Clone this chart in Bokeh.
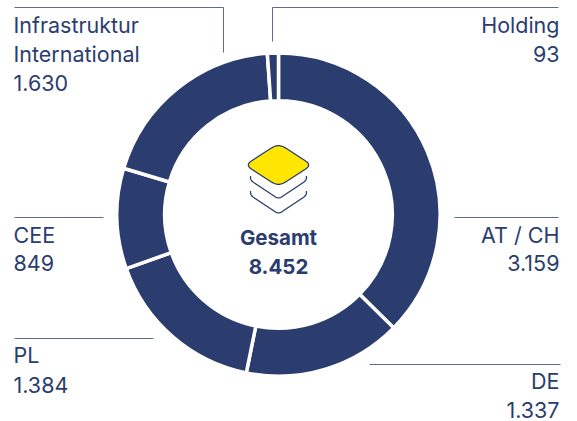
import numpy as np
from bokeh.plotting import figure
from bokeh.embed import file_html
from bokeh.resources import INLINE
from bokeh.core.properties import value
from bokeh.models import ColumnDataSource

categories = ["AT / CH", "DE", "PL", "CEE", "Infrastruktur International", "Holding"]
values = [3159, 1337, 1384, 849, 1630, 93]
value_labels = ["3.159", "1.337", "1.384", "849", "1.630", "93"]
total_label = "8.452"

NAVY = "#2a3d6e"
LINE = "#5a6b94"
FONT = "Inter"
W, H = 577, 421
def Y(py):
    return H - np.asarray(py, dtype=float)

p = figure(width=W, height=H, x_range=(0, W), y_range=(0, H),
           output_backend="svg", toolbar_location=None, min_border=0,
           outline_line_color=None, background_fill_color="white", border_fill_color="white")
p.axis.visible = False
p.grid.visible = False

v = np.array(values, dtype=float)
ends = np.cumsum(v) / v.sum() * 2 * np.pi
starts = np.r_[0, ends[:-1]]
src = ColumnDataSource(dict(start=np.pi/2 - ends, end=np.pi/2 - starts, cat=categories))
p.annular_wedge(x=278, y=float(Y(214)), inner_radius=113.8, outer_radius=161.6,
                start_angle="start", end_angle="end", source=src,
                fill_color=NAVY, line_color="white", line_width=3.5)

# leader lines
leaders = [([14, 223, 223], [7, 7, 52]),
           ([272, 272, 558], [41, 7, 7]),
           ([454, 558], [217, 217]),
           ([14, 103], [217, 217]),
           ([14, 153], [338, 338]),
           ([369, 560], [364, 364])]
for xs, ys in leaders:
    p.line(xs, Y(ys), line_color=LINE, line_width=1)

def txt(x, y, s, align="left", weight="normal", color=NAVY, size="21.5px"):
    p.text([x], [float(Y(y))], text=[s], text_font=value(FONT), text_font_size=size,
           text_color=color, text_align=align, text_baseline="alphabetic", text_font_style=weight)

txt(13, 24, "Infrastruktur"); txt(13, 53, "International"); txt(13, 82, value_labels[4])
txt(559, 24, categories[5], "right"); txt(559, 53, value_labels[5], "right")
txt(559, 234, categories[0], "right"); txt(559, 262, value_labels[0], "right")
txt(13, 234, categories[3]); txt(13, 262, value_labels[3])
txt(13, 354, categories[2]); txt(13, 384, value_labels[2])
txt(559, 380, categories[1], "right"); txt(559, 409, value_labels[1], "right")
txt(278, 237, "Gesamt", "center", "bold", size="20.5px")
txt(278, 266, total_label, "center", "bold", size="20.5px")

# icon
def rounded(pts, r, closed=True):
    pts = [np.array(q, float) for q in pts]
    out = []
    n = len(pts)
    idx = range(n) if closed else range(1, n-1)
    if not closed:
        out.append(pts[0])
    for i in idx:
        a, b, c = pts[i-1], pts[i], pts[(i+1) % n]
        u = (a-b)/np.linalg.norm(a-b); w = (c-b)/np.linalg.norm(c-b)
        s, e = b+u*r, b+w*r
        for t in np.linspace(0, 1, 8):
            out.append((1-t)**2*s + 2*t*(1-t)*b + t*t*e)
    if not closed:
        out.append(pts[-1])
    return np.array(out)

d = rounded([(244.5, 164.5), (278, 143), (311.5, 164.5), (278, 186)], 8)
p.patch(d[:, 0], Y(d[:, 1]), fill_color="#ffe600", line_color=NAVY, line_width=1.3)
for dy in (0, 15):
    c = rounded([(250, 176+dy), (249.5, 179.5+dy), (278, 198.5+dy), (306.5, 179.5+dy), (306, 176+dy)], 4, closed=False)
    p.line(c[:, 0], Y(c[:, 1]), line_color=NAVY, line_width=1.3)

open("out.html", "w").write(file_html(p, INLINE))
